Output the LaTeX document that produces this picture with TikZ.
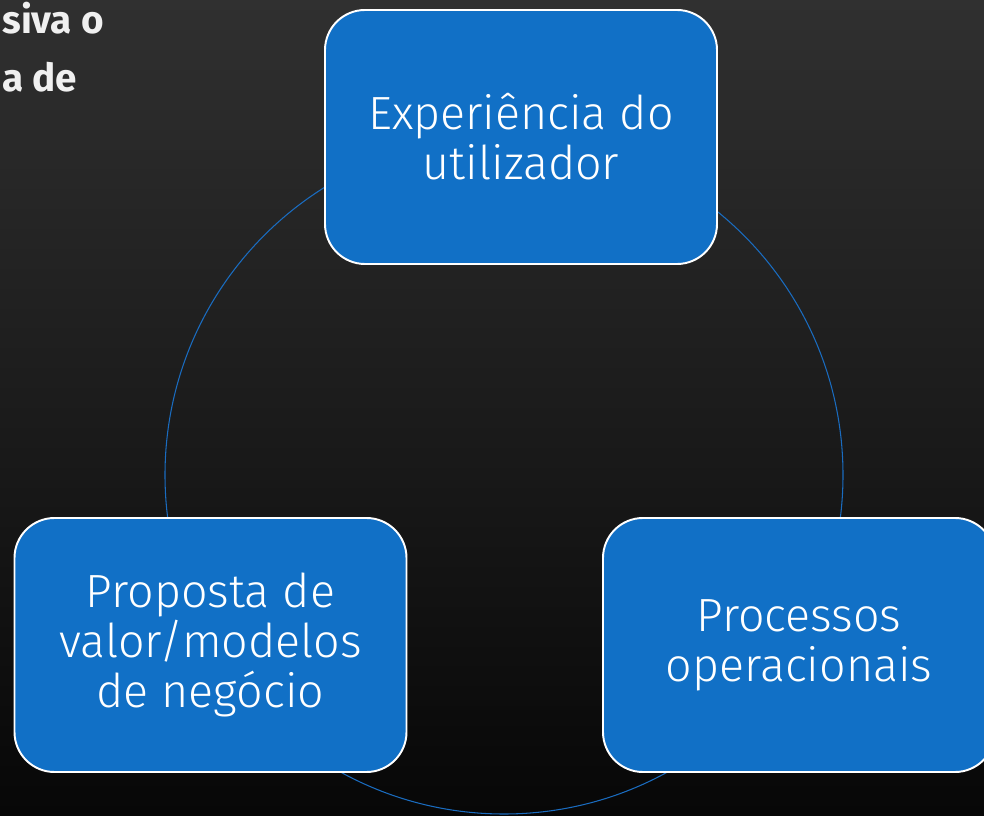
\documentclass[tikz,border=0pt]{standalone}
\usepackage{fontspec}
\setmainfont{Fira Sans}[UprightFont=* Light, BoldFont=* Bold]
\definecolor{bgtop}{HTML}{303030}
\definecolor{bgbottom}{HTML}{070707}
\definecolor{stageblue}{HTML}{1170C6}
\definecolor{ringblue}{HTML}{1A6CC0}
\definecolor{notegray}{HTML}{F0F0F0}
\begin{document}
\begin{tikzpicture}[every node/.style={text=white},
    stage/.style={draw=white,line width=1.1pt,fill=stageblue,rounded corners=0.8cm,minimum width=7.84cm,minimum height=5.08cm,align=center,font=\fontsize{26.5}{28.5}\selectfont},
    note/.style={anchor=base west,inner sep=0,text=notegray,font=\fontsize{22}{30}\selectfont\bfseries}]
        \useasboundingbox (0,0) rectangle (19.68,16.3);
        \fill[top color=bgtop,bottom color=bgbottom] (0,0) rectangle (19.68,16.3);
        \node[note] at (0.04,15.62) (line1) {siva o};
        \node[note] at (0.04,14.46) (line2) {a de};
        \coordinate (hub) at (10.08,6.8);
        \draw[ringblue,line width=0.6pt] (hub) circle[radius=6.78];
        \node[stage] at (10.42,13.56) (ux) {Experiência do\\utilizador};
        \node[stage] at (4.21,3.40) (value) {Proposta de\\valor/modelos\\de negócio};
        \node[stage] at (15.98,3.40) (ops) {Processos\\operacionais};
    \end{tikzpicture}
\end{document}
